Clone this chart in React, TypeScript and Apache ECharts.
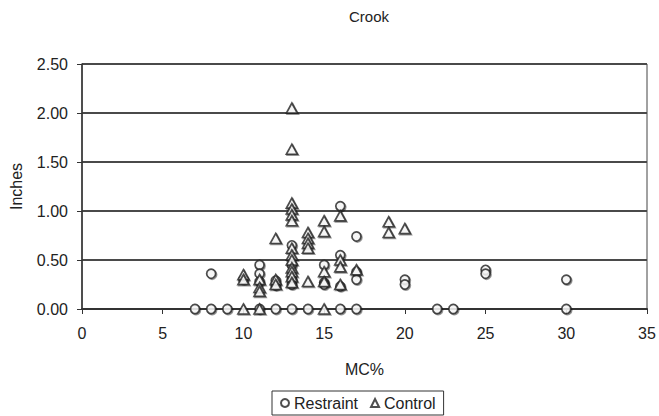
import React, { useEffect, useRef } from "react";
import * as echarts from "echarts";

const title = "Crook";
const xName = "MC%";
const yName = "Inches";
const seriesNames = ["Restraint", "Control"];

// [MC%, Inches]
const restraint: [number, number][] = [
  [7, 0], [8, 0], [9, 0], [11, 0], [12, 0], [13, 0], [14, 0], [16, 0], [17, 0], [22, 0], [23, 0], [30, 0],
  [8, 0.36],
  [10, 0.3],
  [11, 0.45], [11, 0.36], [11, 0.28],
  [12, 0.29], [12, 0.24],
  [13, 0.65], [13, 0.45], [13, 0.3], [13, 0.25],
  [15, 0.45], [15, 0.27], [15, 0.25],
  [16, 1.05], [16, 0.55], [16, 0.23],
  [17, 0.74], [17, 0.38], [17, 0.3],
  [20, 0.3], [20, 0.25],
  [25, 0.4], [25, 0.36],
  [30, 0.3],
];

const control: [number, number][] = [
  [10, 0], [11, 0], [15, 0],
  [10, 0.35], [10, 0.3],
  [11, 0.3], [11, 0.22], [11, 0.18],
  [12, 0.72], [12, 0.3], [12, 0.25],
  [13, 2.05], [13, 1.63], [13, 1.08], [13, 1.02], [13, 0.96], [13, 0.9],
  [13, 0.62], [13, 0.55], [13, 0.5], [13, 0.42], [13, 0.38], [13, 0.33], [13, 0.27],
  [14, 0.78], [14, 0.72], [14, 0.67], [14, 0.62], [14, 0.28],
  [15, 0.9], [15, 0.79], [15, 0.38], [15, 0.28],
  [16, 0.95], [16, 0.5], [16, 0.43], [16, 0.25],
  [17, 0.4],
  [19, 0.89], [19, 0.78],
  [20, 0.82],
];

const FONT = "'Liberation Sans', Arial, sans-serif";

export default function App() {
  const ref = useRef<HTMLDivElement>(null);
  useEffect(() => {
    if (!ref.current) return;
    const chart = echarts.init(ref.current, undefined, { renderer: "svg" });
    const markerStyle = {
      color: "#ffffff",
      borderColor: "#222222",
      borderWidth: 1.7,
      shadowColor: "rgba(0,0,0,0.5)",
      shadowOffsetX: 1,
      shadowOffsetY: 1,
      shadowBlur: 0,
    };
    chart.setOption({
      animation: false,
      backgroundColor: "#ffffff",
      title: {
        text: title,
        left: 364,
        top: 4,
        textAlign: "center",
        textStyle: { fontFamily: FONT, fontSize: 15, fontWeight: "normal", color: "#222" },
      },
      legend: {
        data: seriesNames,
        left: 272,
        bottom: 1,
        orient: "horizontal",
        borderColor: "#333",
        borderWidth: 1,
        borderRadius: 0,
        padding: [4, 8, 4, 8],
        itemWidth: 8,
        itemHeight: 8,
        itemGap: 12,
        textStyle: { fontFamily: FONT, fontSize: 16, color: "#222" },
      },
      grid: {
        left: 81,
        right: 12,
        top: 64,
        bottom: 107,
        show: true,
        borderColor: "#444",
        borderWidth: 1,
        backgroundColor: "transparent",
      },
      xAxis: {
        type: "value",
        min: 0,
        max: 35,
        interval: 5,
        name: xName,
        nameLocation: "middle",
        nameGap: 52,
        nameTextStyle: { fontFamily: FONT, fontSize: 16, color: "#222" },
        axisLine: { show: true, onZero: false, lineStyle: { color: "#333", width: 2 } },
        axisTick: { show: true, inside: false, length: 5, lineStyle: { color: "#333", width: 1 } },
        axisLabel: { fontFamily: FONT, fontSize: 16, color: "#222", margin: 16 },
        splitLine: { show: false },
      },
      yAxis: {
        type: "value",
        min: 0,
        max: 2.5,
        interval: 0.5,
        name: yName,
        nameLocation: "middle",
        nameGap: 58,
        nameTextStyle: { fontFamily: FONT, fontSize: 16, color: "#222" },
        axisLine: { show: true, lineStyle: { color: "#333", width: 1.5 } },
        axisTick: { show: true, inside: false, length: 5, lineStyle: { color: "#333", width: 1 } },
        axisLabel: {
          fontFamily: FONT,
          fontSize: 16,
          color: "#222",
          margin: 14,
          formatter: (v: number) => v.toFixed(2),
        },
        splitLine: { show: true, lineStyle: { color: "#4a4a4a", width: 1.8 } },
      },
      series: [
        {
          name: seriesNames[0],
          type: "scatter",
          symbol: "circle",
          symbolSize: 9,
          data: restraint,
          itemStyle: markerStyle,
          z: 3,
        },
        {
          name: seriesNames[1],
          type: "scatter",
          symbol: "triangle",
          symbolSize: [11, 10],
          data: control,
          itemStyle: markerStyle,
          z: 4,
        },
      ],
    });
    return () => chart.dispose();
  }, []);
  return (
    <div
      ref={ref}
      style={{ position: "absolute", left: 0, top: 0, width: 659, height: 416 }}
    />
  );
}
